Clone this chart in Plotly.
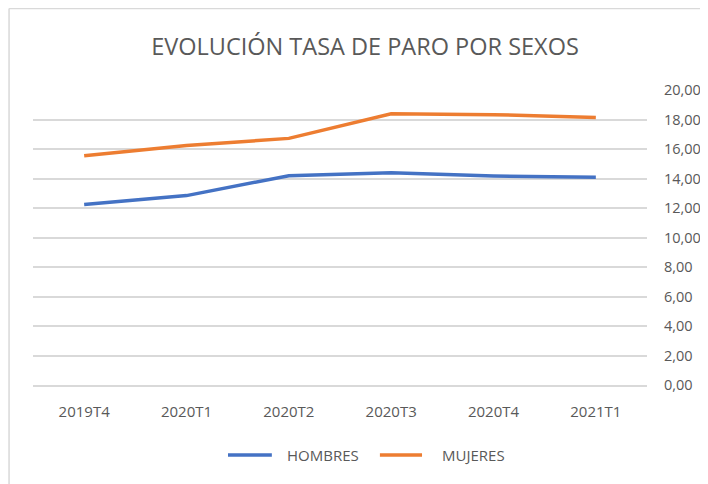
import plotly.graph_objects as go

categories = ["2019T4", "2020T1", "2020T2", "2020T3", "2020T4", "2021T1"]
hombres = [12.24, 12.84, 14.19, 14.39, 14.17, 14.08]
mujeres = [15.55, 16.24, 16.72, 18.39, 18.33, 18.13]
y_ticks = [0, 2, 4, 6, 8, 10, 12, 14, 16, 18, 20]
series_names = ["HOMBRES", "MUJERES"]
series_colors = ["#4472C4", "#ED7D31"]

font_family = "Open Sans, Liberation Sans, sans-serif"
grey = "#595959"

fig = go.Figure()
for name, vals, col in zip(series_names, [hombres, mujeres], series_colors):
    fig.add_trace(go.Scatter(x=categories, y=vals, name=name, mode="lines",
                             line=dict(color=col, width=3.5), showlegend=False))

# Manual legend (line sample + label) below the plot
legend_y = -0.237
legend_items = [(0.3176, 0.389, 0.4104), (0.565, 0.6336, 0.6629)]
shapes = []
annotations = []
for (lx0, lx1, tx), name, col in zip(legend_items, series_names, series_colors):
    shapes.append(dict(type="line", xref="paper", yref="paper", x0=lx0, x1=lx1,
                       y0=legend_y, y1=legend_y, line=dict(color=col, width=3.5)))
    annotations.append(dict(text=name, xref="paper", yref="paper", x=tx, y=legend_y,
                            xanchor="left", yanchor="middle", showarrow=False,
                            font=dict(size=15, color=grey, family=font_family)))

# Chart frame (light grey border at top and left)
shapes.append(dict(type="line", xref="paper", yref="paper", x0=-0.039, x1=1.2,
                   y0=1.276, y1=1.276, line=dict(color="#d9d9d9", width=1.5)))
shapes.append(dict(type="line", xref="paper", yref="paper", x0=-0.039, x1=-0.039,
                   y0=1.276, y1=-0.5, line=dict(color="#d9d9d9", width=1.5)))

fig.update_layout(
    width=700, height=476,
    margin=dict(l=25, r=61, t=82, b=99, autoexpand=False),
    paper_bgcolor="white", plot_bgcolor="white",
    separators=",.",
    font=dict(family=font_family, color=grey, size=15),
    title=dict(text="EVOLUCIÓN TASA DE PARO POR SEXOS", xref="container", yref="container",
               x=0.51, xanchor="center", y=0.918, yanchor="middle",
               font=dict(size=23.5, color=grey, family=font_family)),
    showlegend=False,
    xaxis=dict(type="category", range=[-0.5, 5.5], showgrid=False, showline=True,
               linecolor="#d9d9d9", linewidth=1.5, ticks="", ticklen=0,
               ticklabelstandoff=12,
               tickfont=dict(size=15, color=grey)),
    yaxis=dict(side="right", range=[0, 20], tickvals=y_ticks, tickformat=".2f",
               showgrid=True, gridcolor="#d9d9d9", gridwidth=1.5, zeroline=False,
               showline=False, ticks="", ticklabelstandoff=16,
               tickfont=dict(size=14.5, color=grey)),
    shapes=shapes,
    annotations=annotations,
)

fig.write_html("out.html")
